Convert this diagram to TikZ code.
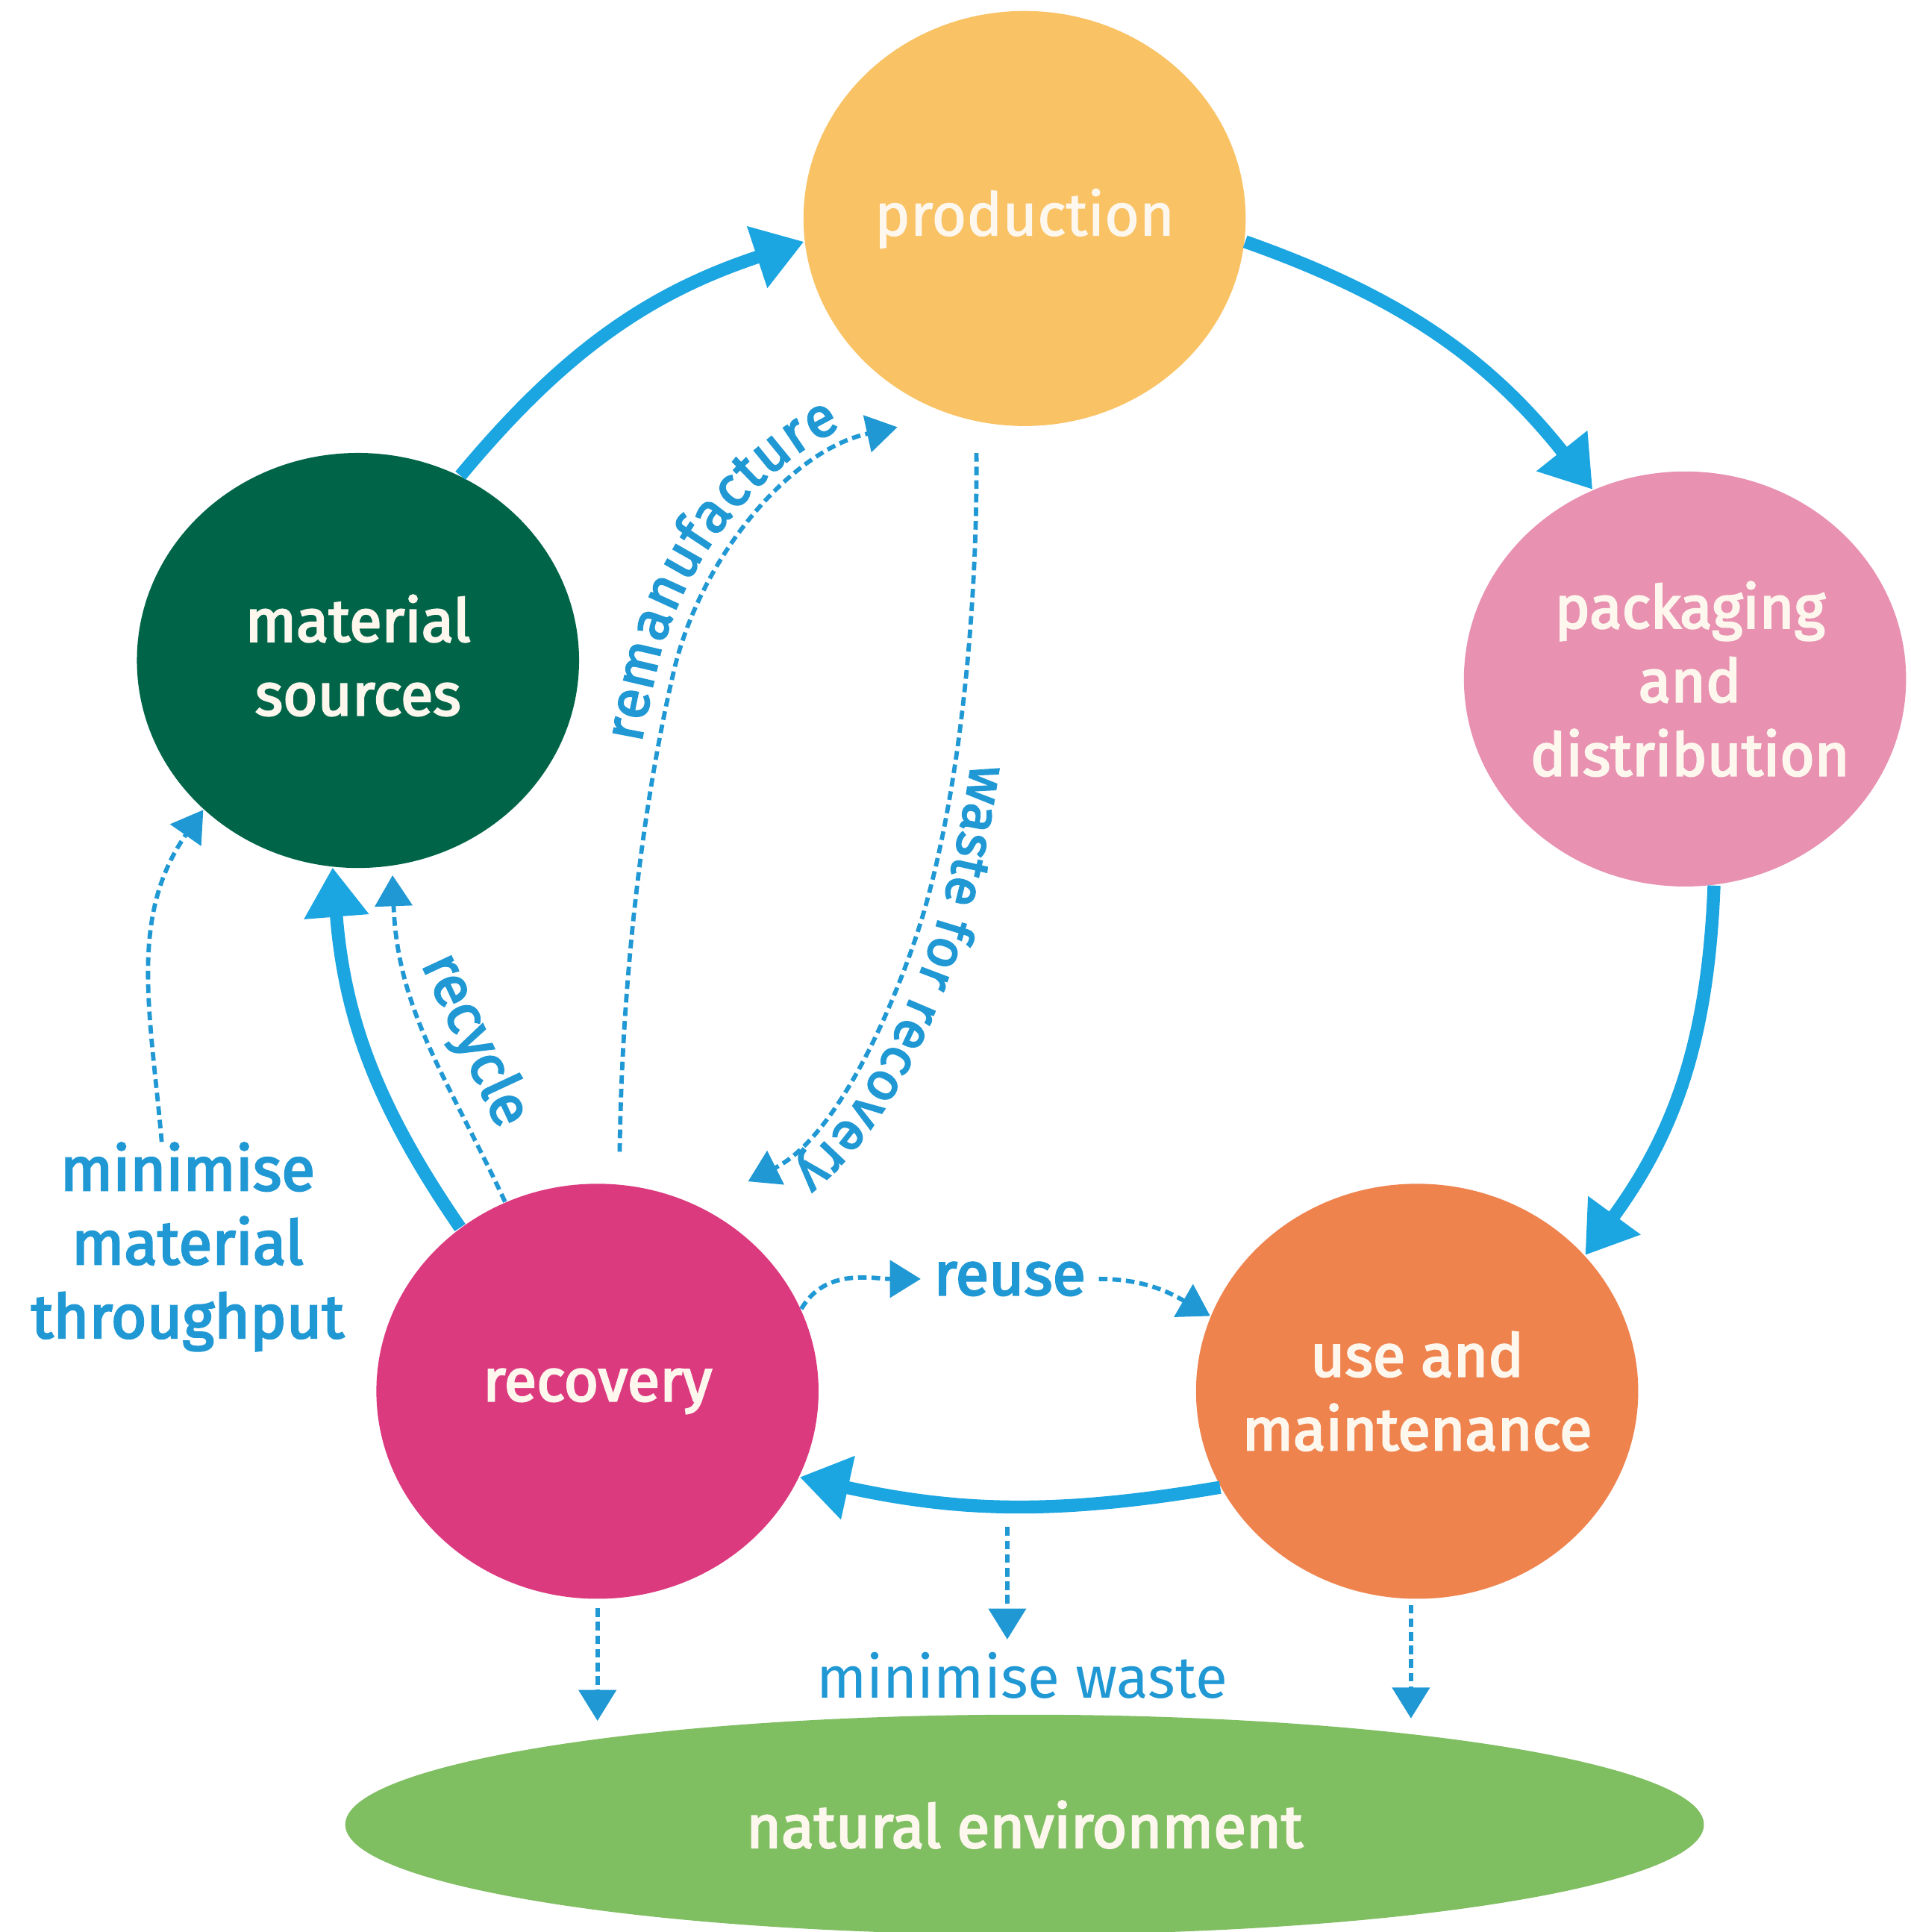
\documentclass[tikz,border=0pt]{standalone}
\usepackage{fontspec}
\setmainfont{Fira Sans}
\newfontfamily\medfont{Fira Sans}[FakeBold=3]
\newfontfamily\semfont{Fira Sans}[FakeBold=1.5]
\usetikzlibrary{arrows.meta,shapes.geometric,decorations.text}
\definecolor{flow}{RGB}{27,165,225}
\definecolor{lab}{RGB}{32,152,212}
\definecolor{cprod}{RGB}{249,194,100}
\definecolor{cpack}{RGB}{232,145,177}
\definecolor{cms}{RGB}{0,101,72}
\definecolor{crec}{RGB}{220,58,127}
\definecolor{cuse}{RGB}{238,131,78}
\definecolor{cenv}{RGB}{128,190,98}
\definecolor{ctext}{RGB}{253,247,238}
\begin{document}
\begin{tikzpicture}[x=0.01cm,y=0.01cm,
  circ/.style={ellipse, inner sep=0pt, minimum width=3.58cm, minimum height=3.36cm},
  clabel/.style={align=center, text=ctext, inner sep=0pt, font=\fontsize{13.7}{17}\medfont},
  plabel/.style={text=lab, inner sep=0pt, font=\fontsize{14}{17}\medfont},
  bigflow/.style={draw=flow, line width=0.105cm, -{Triangle[length=0.4cm,width=0.5cm]}},
  dflow/.style={draw=lab, line width=0.035cm, dash pattern=on 0.07cm off 0.04cm, -{Triangle[length=0.25cm,width=0.3cm]}}]
\useasboundingbox (0,0) rectangle (1548,1565);
% circles
\node[circ, fill=cprod] (prod) at (830,1388) {};
\node[circ, fill=cpack] (pack) at (1365,1015) {};
\node[circ, fill=cms] (ms) at (290,1030) {};
\node[circ, fill=crec] (rec) at (484,438) {};
\node[circ, fill=cuse] (use) at (1148,438) {};
\node[ellipse, inner sep=0pt, fill=cenv, minimum width=11cm, minimum height=1.78cm] (env) at (830,87) {};
% circle labels
\node[clabel, font=\fontsize{13.8}{17}\semfont] (prodl) at (prod) {production};
\node[clabel] (packl) at ([xshift=0.04cm]pack) {packaging\\and\\distribution};
\node[clabel] (msl) at ([yshift=0.04cm]ms) {material\\sources};
\node[clabel] (recl) at (rec) {recovery};
\node[clabel] (usel) at (use) {use and\\maintenance};
\node[clabel, font=\fontsize{13.8}{17}\medfont] (envl) at (env) {natural environment};
% main cycle
\draw[bigflow] (ms.61) to[bend left=16] (prod.186);
\draw[bigflow] (prod.354) to[bend left=16] (pack.116);
\draw[bigflow] (pack.278) to[bend left=17] (use.39);
\draw[bigflow] (use.206) to[bend left=11] (rec.337);
\draw[bigflow] (rec.130) to[bend left=15] (ms.263);
% minimise material throughput
\node[plabel, align=center, font=\fontsize{14.1}{17}\medfont] (mmt) at (152,555) {minimise\\material\\throughput};
\coordinate (mmtA) at (131,640);
\draw[dflow] (mmtA) to[out=95,in=235] (ms.224);
% recycle
\coordinate (rcyB) at (318,856);
\draw[dflow] (rec.116) to[out=115,in=272] (rcyB);
\node[plabel, rotate=-65, font=\fontsize{13.3}{16}\medfont] (rcyl) at (384,722) {recycle};
% remanufacture
\coordinate (rmA) at (502,632);
\coordinate (rmM) at (546,1022);
\coordinate (rmB) at (727,1219);
\draw[dflow] (rmA) .. controls (504,780) and (522,920) .. (rmM) .. controls (568,1114) and (640,1200) .. (rmB);
\path[decorate, decoration={text along path, text={|\fontsize{12.8}{15}\medfont\color{lab}|remanufacture}, text align={left indent=3.3cm}, raise=0.14cm}]
  (rmA) .. controls (504,780) and (522,920) .. (rmM) .. controls (568,1114) and (640,1200) .. (rmB);
% waste for recovery
\coordinate (wA) at (791,1198);
\coordinate (wM) at (740,800);
\coordinate (wB) at (606,608);
\draw[dflow] (wA) .. controls (792,1060) and (775,900) .. (wM) .. controls (712,720) and (670,640) .. (wB);
\path[decorate, decoration={text along path, text={|\fontsize{12.2}{15}\medfont\color{lab}|waste for recovery}, text align={left indent=2.5cm}, raise=0.13cm}]
  (wA) .. controls (792,1060) and (775,900) .. (wM) .. controls (712,720) and (670,640) .. (wB);
% reuse
\node[plabel, inner xsep=0.1cm] (reuse) at (818,529) {reuse};
\draw[dflow] (rec.22) to[out=60,in=180] (reuse.west);
\draw[dflow] (reuse.east) to[out=0,in=150] (use.160);
% minimise waste
\coordinate (w1) at (484,171);
\coordinate (w2a) at (816,328);
\coordinate (w2b) at (816,237);
\coordinate (w3a) at (1143,265);
\coordinate (w3b) at (1143,173);
\draw[dflow, shorten <=0.07cm] (rec.south) -- (w1);
\draw[dflow] (w2a) -- (w2b);
\draw[dflow] (w3a) -- (w3b);
\node[plabel, font=\fontsize{13.5}{16}\selectfont] (mw) at (828,208) {minimise waste};
\end{tikzpicture}
\end{document}
